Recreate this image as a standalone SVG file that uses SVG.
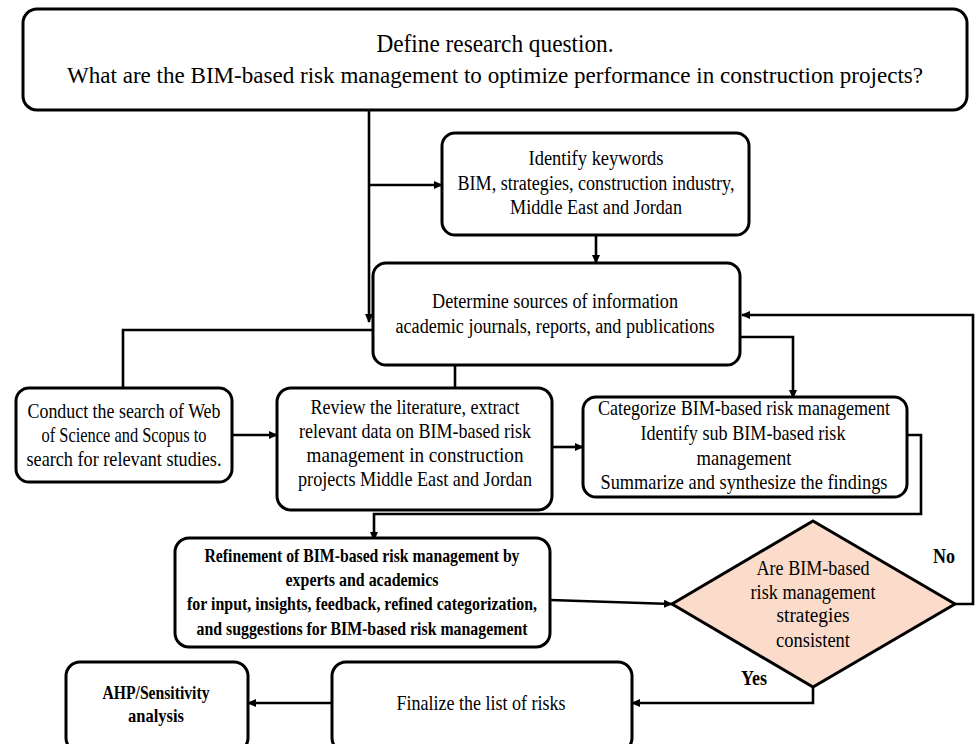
<svg xmlns="http://www.w3.org/2000/svg" width="975" height="744" viewBox="0 0 975 744">
<style>
.box{fill:#fff;stroke:#000;stroke-width:3}
.dia{fill:#fbdccb;stroke:#000;stroke-width:3}
.t{font-family:"Liberation Serif","Times New Roman",serif;fill:#000;text-anchor:middle}
.b{font-weight:bold}
.con{fill:none;stroke:#000;stroke-width:2.6}
</style>
<defs>
<marker id="ah" markerUnits="userSpaceOnUse" markerWidth="9" markerHeight="8" refX="8" refY="4" orient="auto">
<path d="M0,0 L9,4 L0,8 z" fill="#000"/>
</marker>
</defs>
<rect width="975" height="744" fill="#fff"/>
<g id="connectors">
<path class="con" d="M369,110 V322" marker-end="url(#ah)"/>
<path class="con" d="M369,185 H442" marker-end="url(#ah)"/>
<path class="con" d="M596,235 V263" marker-end="url(#ah)"/>
<path class="con" d="M373,330 H123 V395" marker-end="url(#ah)"/>
<path class="con" d="M455,365 V395" marker-end="url(#ah)"/>
<path class="con" d="M740,337 H793 V398" marker-end="url(#ah)"/>
<path class="con" d="M232,435 H277" marker-end="url(#ah)"/>
<path class="con" d="M552,447 H583" marker-end="url(#ah)"/>
<path class="con" d="M907,435 H921 V514 H374 V540" marker-end="url(#ah)"/>
<path class="con" d="M550,600 L672,604" marker-end="url(#ah)"/>
<path class="con" d="M955,604 H973 V315 H742" marker-end="url(#ah)"/>
<path class="con" d="M813,687 V703 H632" marker-end="url(#ah)"/>
<path class="con" d="M332,703 H248" marker-end="url(#ah)"/>
</g>
<g id="question">
<rect class="box" x="23" y="9" width="944" height="101" rx="14"/>
<text class="t" x="495" y="52" font-size="25" textLength="237" lengthAdjust="spacingAndGlyphs">Define research question.</text>
<text class="t" x="495" y="83" font-size="24" textLength="856" lengthAdjust="spacingAndGlyphs">What are the BIM-based risk management to optimize performance in construction projects?</text>
</g>
<g id="keywords">
<rect class="box" x="442" y="133" width="307" height="102" rx="13"/>
<text class="t" x="596" y="165" font-size="20" textLength="135" lengthAdjust="spacingAndGlyphs">Identify keywords</text>
<text class="t" x="596" y="190" font-size="20" textLength="277" lengthAdjust="spacingAndGlyphs">BIM, strategies, construction industry,</text>
<text class="t" x="596" y="214" font-size="20" textLength="172" lengthAdjust="spacingAndGlyphs">Middle East and Jordan</text>
</g>
<g id="sources">
<rect class="box" x="373" y="263" width="367" height="102" rx="13"/>
<text class="t" x="555" y="308" font-size="20" textLength="246" lengthAdjust="spacingAndGlyphs">Determine sources of information</text>
<text class="t" x="555" y="333" font-size="20" textLength="319" lengthAdjust="spacingAndGlyphs">academic journals, reports, and publications</text>
</g>
<g id="search">
<rect class="box" x="16" y="388" width="216" height="94" rx="13"/>
<text class="t" x="124" y="418" font-size="21" textLength="193" lengthAdjust="spacingAndGlyphs">Conduct the search of Web</text>
<text class="t" x="124" y="442" font-size="21" textLength="165" lengthAdjust="spacingAndGlyphs">of Science and Scopus to</text>
<text class="t" x="124" y="466" font-size="21" textLength="195" lengthAdjust="spacingAndGlyphs">search for relevant studies.</text>
</g>
<g id="review">
<rect class="box" x="277" y="388" width="275" height="122" rx="14"/>
<text class="t" x="415" y="414" font-size="21" textLength="209" lengthAdjust="spacingAndGlyphs">Review the literature, extract</text>
<text class="t" x="415" y="438" font-size="21" textLength="232" lengthAdjust="spacingAndGlyphs">relevant data on BIM-based risk</text>
<text class="t" x="415" y="462" font-size="21" textLength="217" lengthAdjust="spacingAndGlyphs">management in construction</text>
<text class="t" x="415" y="486" font-size="21" textLength="234" lengthAdjust="spacingAndGlyphs">projects Middle East and Jordan</text>
</g>
<g id="categorize">
<rect class="box" x="583" y="397" width="324" height="100" rx="13"/>
<text class="t" x="744" y="415" font-size="21" textLength="292" lengthAdjust="spacingAndGlyphs">Categorize BIM-based risk management</text>
<text class="t" x="743" y="440" font-size="21" textLength="205" lengthAdjust="spacingAndGlyphs">Identify sub BIM-based risk</text>
<text class="t" x="744" y="465" font-size="21" textLength="95" lengthAdjust="spacingAndGlyphs">management</text>
<text class="t" x="744" y="489" font-size="21" textLength="287" lengthAdjust="spacingAndGlyphs">Summarize and synthesize the findings</text>
</g>
<g id="refinement">
<rect class="box" x="175" y="538" width="375" height="109" rx="14"/>
<text class="t b" x="362" y="562" font-size="19" textLength="315" lengthAdjust="spacingAndGlyphs">Refinement of BIM-based risk management by</text>
<text class="t b" x="362" y="586" font-size="19" textLength="153" lengthAdjust="spacingAndGlyphs">experts and academics</text>
<text class="t b" x="362" y="610" font-size="19" textLength="350" lengthAdjust="spacingAndGlyphs">for input,  insights, feedback, refined categorization,</text>
<text class="t b" x="362" y="635" font-size="19" textLength="331" lengthAdjust="spacingAndGlyphs">and suggestions for BIM-based risk management</text>
</g>
<g id="decision">
<polygon class="dia" points="813,521 955,604 813,687 672,604"/>
<text class="t" x="813" y="575" font-size="20" textLength="113" lengthAdjust="spacingAndGlyphs">Are BIM-based</text>
<text class="t" x="813" y="599" font-size="20" textLength="125" lengthAdjust="spacingAndGlyphs">risk management</text>
<text class="t" x="813" y="622" font-size="20" textLength="73" lengthAdjust="spacingAndGlyphs">strategies</text>
<text class="t" x="813" y="647" font-size="20" textLength="74" lengthAdjust="spacingAndGlyphs">consistent</text>
</g>
<g id="labels">
<text class="t b" x="944" y="563" font-size="20" textLength="22" lengthAdjust="spacingAndGlyphs">No</text>
<text class="t b" x="754" y="685" font-size="20" textLength="26" lengthAdjust="spacingAndGlyphs">Yes</text>
</g>
<g id="finalize">
<rect class="box" x="332" y="662" width="300" height="90" rx="14"/>
<text class="t" x="481" y="710" font-size="21" textLength="169" lengthAdjust="spacingAndGlyphs">Finalize the list of risks</text>
</g>
<g id="ahp">
<rect class="box" x="66" y="662" width="182" height="90" rx="14"/>
<text class="t b" x="156" y="699" font-size="19" textLength="107" lengthAdjust="spacingAndGlyphs">AHP/Sensitivity</text>
<text class="t b" x="156" y="722" font-size="19" textLength="56" lengthAdjust="spacingAndGlyphs">analysis</text>
</g>
</svg>
